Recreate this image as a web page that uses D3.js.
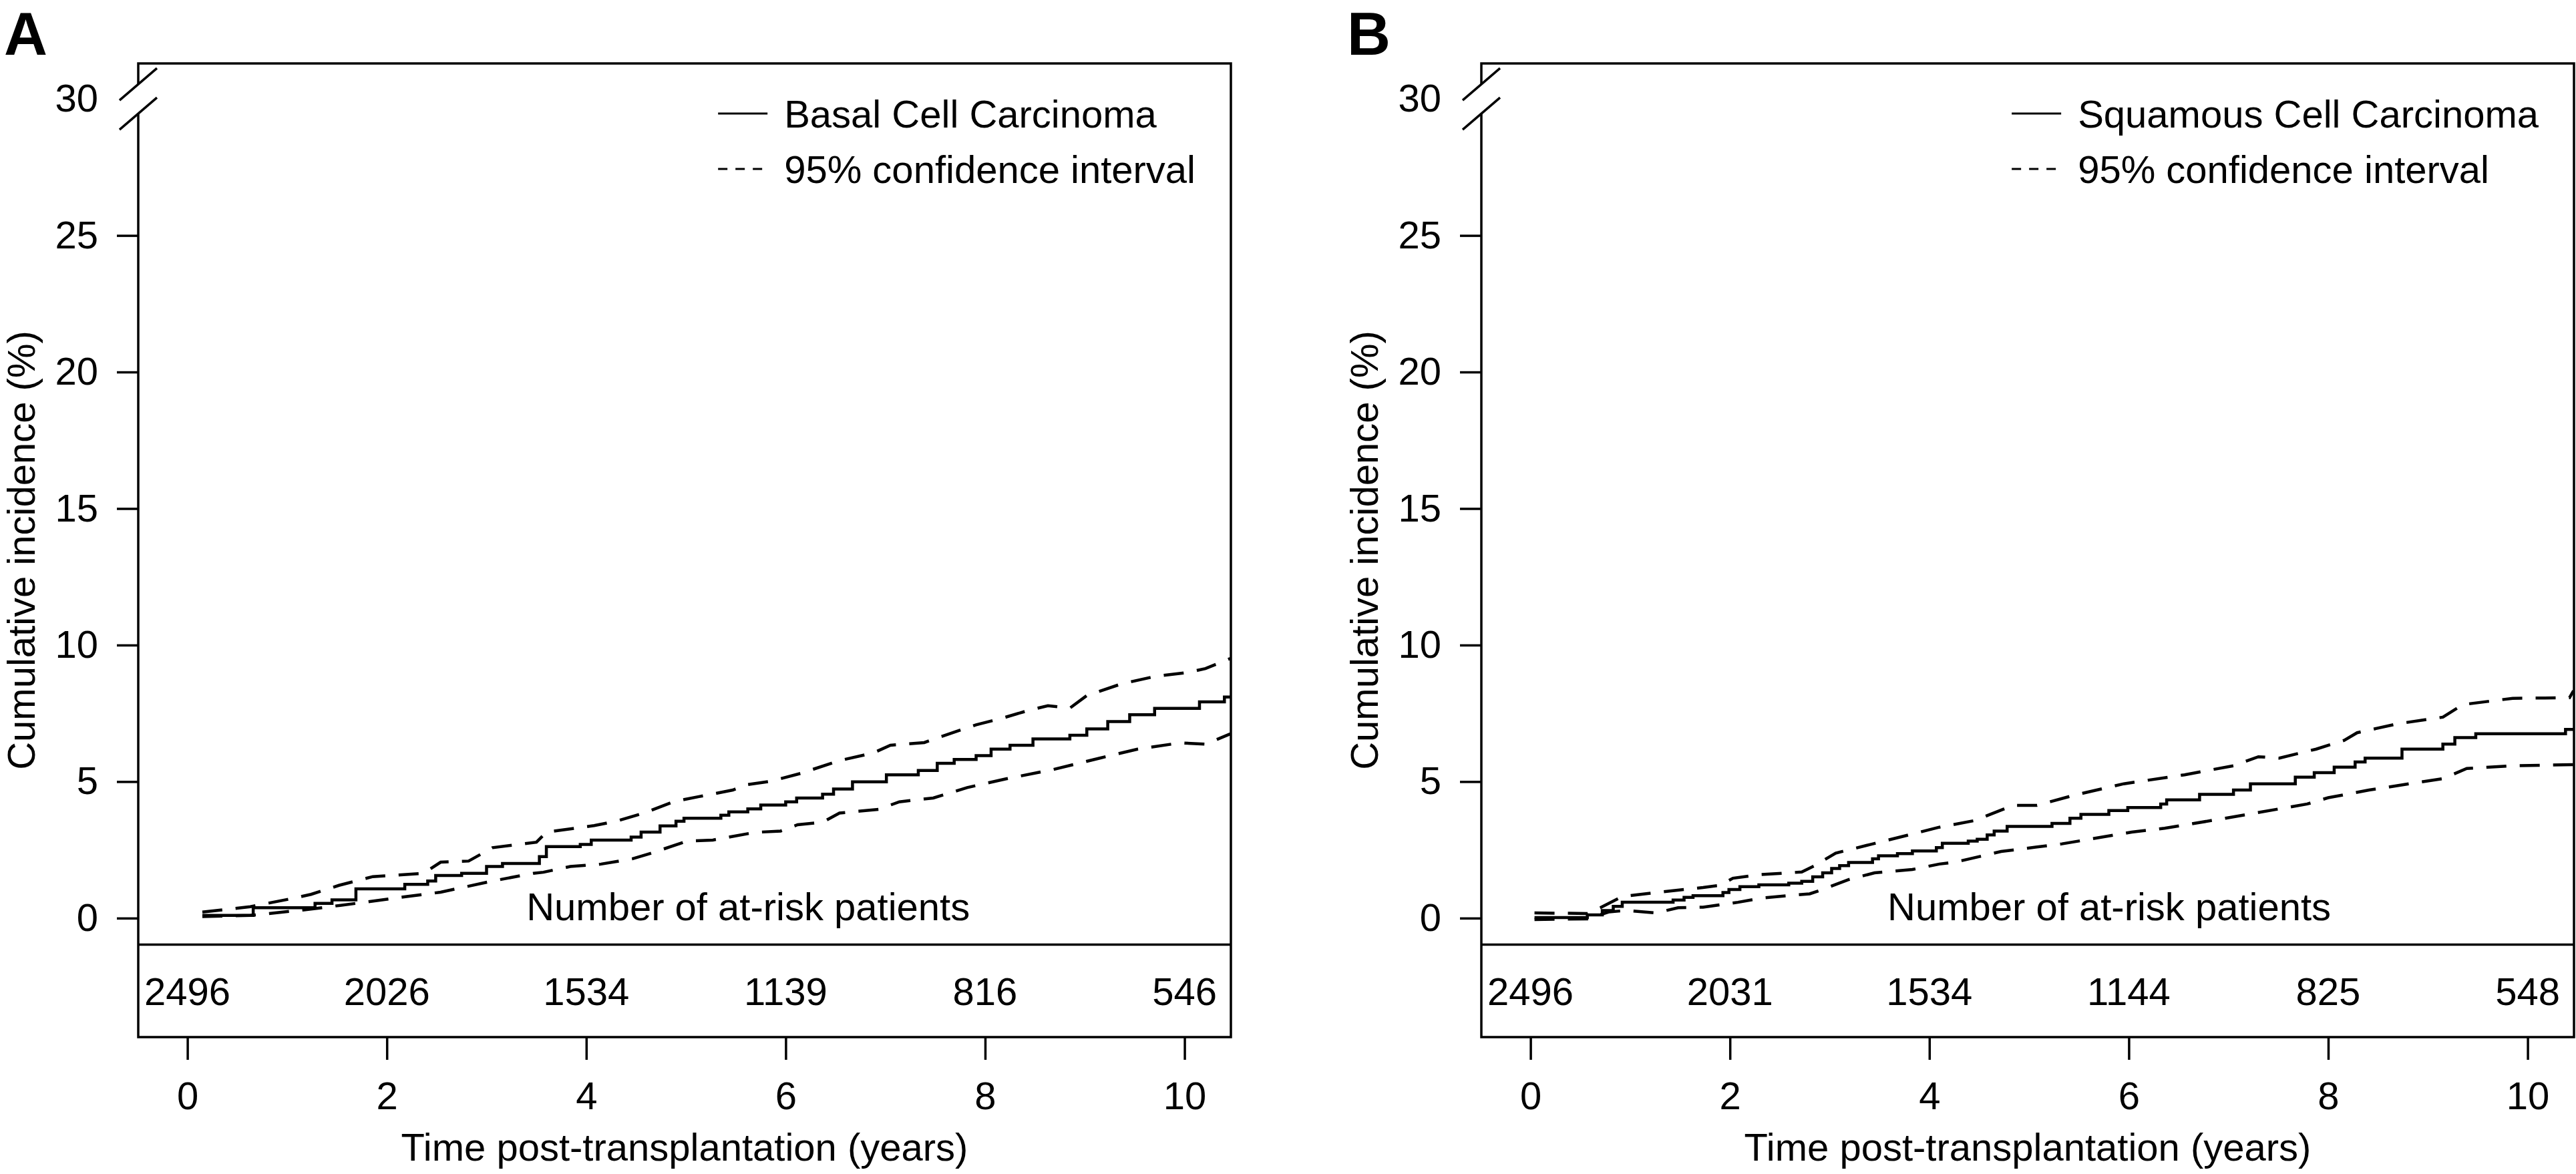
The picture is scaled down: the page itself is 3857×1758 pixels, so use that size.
<!DOCTYPE html>
<html>
<head>
<meta charset="utf-8">
<script src="https://cdn.jsdelivr.net/npm/d3@7"></script>
<style>
  body { margin: 0; background: #fff; }
  svg { display: block; background: #fff; }
  text { font-family: "Liberation Sans", Arial, Helvetica, sans-serif; fill: #000; }
</style>
</head>
<body>
<svg id="chart"></svg>
<script>
// axis ticks
const yearTicks = [0, 2, 4, 6, 8, 10];
const incidenceTicks = [0, 5, 10, 15, 20, 25, 30];

// Basal cell carcinoma: [years, cumulative incidence %]
const bccEstimate = [[0.15,0.1],[0.66,0.38],[1.28,0.54],[1.45,0.67],[1.69,1.07],[2.18,1.24],[2.41,1.36],[2.49,1.56],[2.75,1.64],[3.0,1.89],[3.16,2.0],[3.53,2.25],[3.6,2.62],[3.94,2.7],[4.05,2.86],[4.45,2.97],[4.55,3.15],[4.74,3.38],[4.9,3.55],[4.98,3.66],[5.35,3.77],[5.43,3.89],[5.62,4.0],[5.75,4.14],[6.0,4.26],[6.11,4.4],[6.37,4.54],[6.48,4.73],[6.67,4.99],[7.01,5.25],[7.33,5.41],[7.52,5.67],[7.69,5.81],[7.91,5.95],[8.06,6.19],[8.25,6.33],[8.48,6.56],[8.85,6.7],[9.02,6.93],[9.23,7.2],[9.45,7.45],[9.7,7.68],[10.15,7.92],[10.4,8.1],[10.46,8.1]];
const bccUpper = [[0.15,0.22],[0.63,0.42],[1.04,0.71],[1.24,0.87],[1.52,1.2],[1.86,1.52],[2.37,1.64],[2.54,2.05],[2.82,2.09],[3.06,2.58],[3.5,2.78],[3.6,3.15],[4.08,3.39],[4.3,3.55],[4.58,3.85],[4.88,4.27],[5.13,4.45],[5.47,4.69],[5.6,4.88],[5.86,5.02],[6.15,5.3],[6.54,5.77],[6.88,6.05],[7.05,6.33],[7.39,6.43],[7.56,6.65],[7.91,7.08],[8.16,7.31],[8.42,7.59],[8.63,7.78],[8.85,7.69],[9.02,8.15],[9.36,8.57],[9.7,8.85],[10.04,9.0],[10.21,9.14],[10.46,9.51]];
const bccLower = [[0.15,0.06],[0.63,0.1],[1.17,0.3],[1.69,0.54],[2.2,0.79],[2.54,0.95],[3.06,1.36],[3.47,1.64],[3.57,1.68],[3.84,1.89],[4.15,1.98],[4.46,2.17],[4.67,2.4],[5.01,2.82],[5.27,2.86],[5.69,3.14],[5.95,3.19],[6.12,3.42],[6.37,3.51],[6.54,3.85],[6.93,3.98],[7.14,4.26],[7.48,4.4],[7.82,4.78],[8.21,5.1],[8.68,5.44],[9.15,5.86],[9.53,6.19],[9.96,6.42],[10.21,6.37],[10.46,6.75]];
const bccAtRisk = [2496, 2026, 1534, 1139, 816, 546];

// Squamous cell carcinoma
const sccEstimate = [[0.04,0.02],[0.57,0.12],[0.72,0.28],[0.83,0.43],[0.92,0.58],[1.43,0.66],[1.54,0.76],[1.63,0.82],[1.93,0.94],[1.99,1.05],[2.1,1.15],[2.29,1.22],[2.59,1.28],[2.72,1.35],[2.83,1.51],[2.93,1.66],[3.02,1.82],[3.1,1.92],[3.19,2.04],[3.43,2.17],[3.49,2.28],[3.68,2.36],[3.83,2.46],[4.07,2.58],[4.13,2.74],[4.39,2.82],[4.48,2.89],[4.58,3.05],[4.65,3.19],[4.78,3.36],[5.23,3.47],[5.41,3.66],[5.52,3.8],[5.8,3.94],[5.99,4.05],[6.32,4.18],[6.38,4.33],[6.71,4.53],[7.05,4.69],[7.22,4.92],[7.67,5.16],[7.86,5.33],[8.06,5.53],[8.27,5.72],[8.37,5.86],[8.74,6.19],[9.15,6.37],[9.27,6.61],[9.48,6.75],[10.38,6.91],[10.46,6.91]];
const sccUpper = [[0.04,0.19],[0.57,0.17],[0.7,0.38],[0.92,0.79],[1.26,0.94],[1.73,1.12],[1.9,1.2],[2.03,1.46],[2.29,1.59],[2.72,1.69],[2.85,1.92],[3.06,2.38],[3.4,2.69],[3.83,3.08],[4.1,3.33],[4.45,3.57],[4.84,4.13],[5.08,4.13],[5.45,4.5],[5.95,4.92],[6.56,5.25],[7.05,5.58],[7.3,5.91],[7.51,5.86],[7.88,6.19],[8.16,6.51],[8.29,6.79],[8.7,7.12],[9.15,7.36],[9.35,7.82],[9.85,8.05],[10.42,8.07],[10.46,8.33]];
const sccLower = [[0.04,-0.05],[0.57,-0.03],[0.79,0.23],[0.96,0.28],[1.26,0.19],[1.48,0.38],[1.73,0.4],[2.08,0.58],[2.33,0.74],[2.8,0.89],[2.93,1.05],[3.19,1.41],[3.45,1.66],[3.83,1.78],[4.1,1.98],[4.26,2.05],[4.72,2.44],[5.33,2.72],[6.03,3.15],[6.36,3.29],[6.97,3.66],[7.79,4.18],[8.0,4.41],[8.41,4.69],[9.15,5.11],[9.39,5.48],[9.85,5.58],[10.46,5.62]];
const sccAtRisk = [2496, 2031, 1534, 1144, 825, 548];

const legendLabels = ["95% confidence interval"];

const W = 3857, H = 1758;
const FONT = 58;
const LW = 3.5;

const svg = d3.select("#chart").attr("width", W).attr("height", H);

const panels = [
    { letter: "A", left: 207, name: "Basal Cell Carcinoma", est: bccEstimate, up: bccUpper, lo: bccLower, atRisk: bccAtRisk, riskLabelYear: 3.40 },
    { letter: "B", left: 2218, name: "Squamous Cell Carcinoma", est: sccEstimate, up: sccUpper, lo: sccLower, atRisk: sccAtRisk, riskLabelYear: 3.58 }
];

const boxW = 1636, boxTop = 95, boxBottom = 1553, tableTop = 1414.5;

panels.forEach(drawPanel);

function drawPanel(p) {
    const x = d3.scaleLinear().domain([-0.493, 10.465]).range([0, boxW]);
    const y = d3.scaleLinear().domain([-0.97, 31.3]).range([tableTop, boxTop]);

    svg.append("text")
        .attr("x", p.left - 201)
        .attr("y", 82)
        .attr("font-size", 90)
        .attr("font-weight", "bold")
        .text(p.letter);

    const g = svg.append("g").attr("transform", `translate(${p.left},0)`);

    // frame, with the axis break on the left side
    const yb = y(30);
    g.append("path")
        .attr("d", `M0,${yb - 22} V${boxTop} H${boxW} V${boxBottom} H0 V${yb + 22}`)
        .attr("fill", "none").attr("stroke", "#000").attr("stroke-width", LW);
    g.append("line")
        .attr("x1", 0).attr("x2", boxW).attr("y1", tableTop).attr("y2", tableTop)
        .attr("stroke", "#000").attr("stroke-width", LW);
    [-22, 22].forEach(off => {
        g.append("line")
            .attr("x1", -28).attr("y1", yb + off + 24)
            .attr("x2", 28).attr("y2", yb + off - 24)
            .attr("stroke", "#000").attr("stroke-width", LW);
    });

    // y axis
    const yAxis = g.append("g")
        .call(d3.axisLeft(y).tickValues(incidenceTicks).tickSize(32).tickPadding(28).tickFormat(d3.format("d")));
    yAxis.select(".domain").remove();
    yAxis.selectAll("line").attr("stroke-width", LW).filter(d => d === 30).remove();
    yAxis.selectAll("text").attr("font-size", FONT).attr("font-family", null);

    // x axis below the at-risk table
    const xAxis = g.append("g")
        .attr("transform", `translate(0,${boxBottom})`)
        .call(d3.axisBottom(x).tickValues(yearTicks).tickSize(34).tickPadding(33));
    xAxis.select(".domain").remove();
    xAxis.selectAll("line").attr("stroke-width", LW);
    xAxis.selectAll("text").attr("font-size", FONT).attr("font-family", null);

    // curves
    const stepLine = d3.line().x(d => x(d[0])).y(d => y(d[1])).curve(d3.curveStepAfter);
    const ciLine = d3.line().x(d => x(d[0])).y(d => y(d[1]));

    [p.up, p.lo].forEach(ci => {
        g.append("path")
            .datum(ci)
            .attr("d", ciLine)
            .attr("fill", "none")
            .attr("stroke", "#000")
            .attr("stroke-width", 4.5)
            .attr("stroke-dasharray", "30,20");
    });
    g.append("path")
        .datum(p.est)
        .attr("d", stepLine)
        .attr("fill", "none")
        .attr("stroke", "#000")
        .attr("stroke-width", 4.5);

    // at-risk table
    g.append("text")
        .attr("x", x(p.riskLabelYear))
        .attr("y", 1378)
        .attr("font-size", FONT)
        .text("Number of at-risk patients");
    g.selectAll(".risk")
        .data(p.atRisk)
        .join("text")
        .attr("class", "risk")
        .attr("x", (d, i) => x(yearTicks[i]))
        .attr("y", 1505)
        .attr("text-anchor", "middle")
        .attr("font-size", FONT)
        .text(d => d);

    // legend, right aligned inside the box
    const leg = g.append("g");
    const labels = [p.name].concat(legendLabels);
    const texts = leg.selectAll("text")
        .data(labels)
        .join("text")
        .attr("y", (d, i) => 191 + i * 83)
        .attr("font-size", FONT)
        .text(d => d);
    const maxW = d3.max(texts.nodes(), n => n.getComputedTextLength());
    const tx = boxW - 53 - maxW;
    texts.attr("x", tx);
    leg.append("line")
        .attr("x1", tx - 99).attr("x2", tx - 25)
        .attr("y1", 170).attr("y2", 170)
        .attr("stroke", "#000").attr("stroke-width", 3);
    leg.append("line")
        .attr("x1", tx - 99).attr("x2", tx - 25)
        .attr("y1", 253).attr("y2", 253)
        .attr("stroke", "#000").attr("stroke-width", 3)
        .attr("stroke-dasharray", "14,12");

    // axis titles
    g.append("text")
        .attr("transform", `translate(-155,${(boxTop + boxBottom) / 2}) rotate(-90)`)
        .attr("text-anchor", "middle")
        .attr("font-size", FONT)
        .text("Cumulative incidence (%)");
    g.append("text")
        .attr("x", boxW / 2)
        .attr("y", 1738)
        .attr("text-anchor", "middle")
        .attr("font-size", FONT)
        .text("Time post-transplantation (years)");
}
</script>
</body>
</html>
